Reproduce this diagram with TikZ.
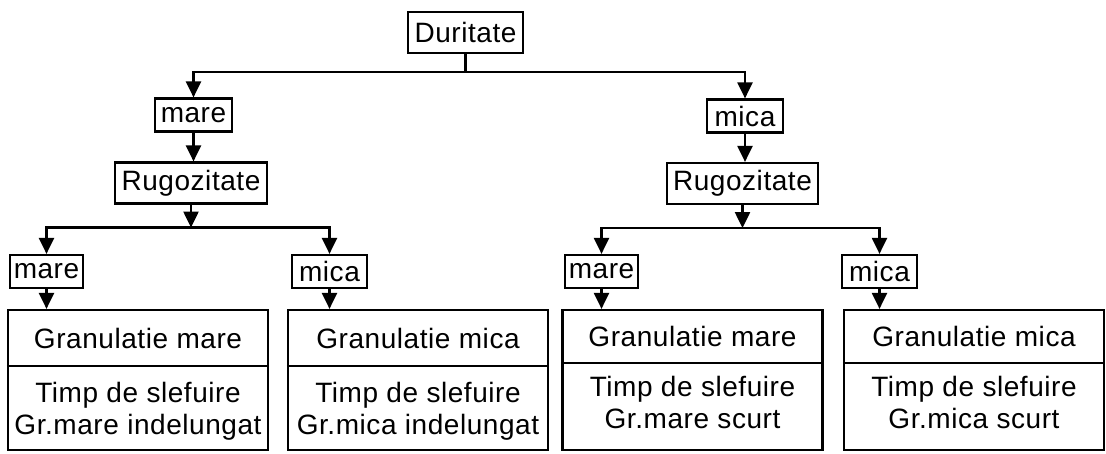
\documentclass[tikz,border=0pt]{standalone}
\usepackage{fontspec}
\setmainfont{Liberation Sans}[LetterSpace=2]
\usetikzlibrary{arrows.meta}
\begin{document}
\begin{tikzpicture}[x=1pt,y=-1pt,
  every node/.style={font=\fontsize{28}{32}\selectfont},
  lbl/.style={draw, line width=2.2pt, inner sep=0pt, minimum height=33pt},
  res/.style={draw, line width=2.2pt, minimum width=260pt, minimum height=140pt, inner sep=0pt},
  txt/.style={inner sep=0pt, align=center},
  link/.style={line width=2.2pt},
  arr/.style={link, -{Triangle[length=16pt,width=15pt]}},
]
\useasboundingbox (0,0) rectangle (1106,454);

% decision boxes
\node[lbl, minimum width=115pt, minimum height=41pt] (dur) at (465.5,32.5) {Duritate};
\node[lbl, minimum width=77pt] (hM) at (193.5,115) {mare};
\node[lbl, minimum width=76pt] (hm) at (745,116) {mica};
\node[lbl, minimum width=152pt, minimum height=41pt] (rM) at (191,183) {Rugozitate};
\node[lbl, minimum width=151pt, minimum height=41pt] (rm) at (742.5,183.5) {Rugozitate};
\node[lbl, minimum width=73pt] (MM) at (46.5,271.5) {mare};
\node[lbl, minimum width=75pt] (Mm) at (329.5,271.5) {mica};
\node[lbl, minimum width=73pt] (mM) at (601.5,271.5) {mare};
\node[lbl, minimum width=75pt] (mm) at (879.5,271.5) {mica};

% result boxes
\node[res] (bMM) at (138,380) {};
\node[res] (bMm) at (418,380) {};
\node[res] (bmM) at (692.5,380) {};
\node[res] (bmm) at (974,380) {};

\coordinate (dl) at (0,366);
\coordinate (dr) at (0,363);
\foreach \b in {bMM,bMm} \draw[link] (\b.west |- dl) -- (\b.east |- dl);
\foreach \b in {bmM,bmm} \draw[link] (\b.west |- dr) -- (\b.east |- dr);

\node[txt] (tMM1) at (138,338) {Granulatie mare};
\node[txt] (tMM2) at (138,411) {Timp de slefuire\\Gr.mare indelungat};
\node[txt] (tMm1) at (418,338) {Granulatie mica};
\node[txt] (tMm2) at (418,411) {Timp de slefuire\\Gr.mica indelungat};
\node[txt] (tmM1) at (692.5,336) {Granulatie mare};
\node[txt] (tmM2) at (692.5,402) {Timp de slefuire\\Gr.mare scurt};
\node[txt] (tmm1) at (974,336) {Granulatie mica};
\node[txt] (tmm2) at (974,402) {Timp de slefuire\\Gr.mica scurt};

% connectors
\path (dur.south) ++(0,18) coordinate (j0);
\draw[link] (dur.south) -- (j0);
\draw[arr] (j0) -| (hM.north);
\draw[arr] (j0) -| (hm.north);
\draw[arr] (hM.south) -- (hM.south |- rM.north);
\draw[arr] (hm.south) -- (hm.south |- rm.north);

\path (rM.south) ++(0,23) coordinate (j1);
\path (rm.south) ++(0,23) coordinate (j2);
\draw[arr] (rM.south) -- (j1);
\draw[arr] (rm.south) -- (j2);
\draw[arr] (j1) -| (MM.north);
\draw[arr] (j1) -| (Mm.north);
\draw[arr] (j2) -| (mM.north);
\draw[arr] (j2) -| (mm.north);

\draw[arr] (MM.south) -- (MM.south |- bMM.north);
\draw[arr] (Mm.south) -- (Mm.south |- bMm.north);
\draw[arr] (mM.south) -- (mM.south |- bmM.north);
\draw[arr] (mm.south) -- (mm.south |- bmm.north);
\end{tikzpicture}
\end{document}
